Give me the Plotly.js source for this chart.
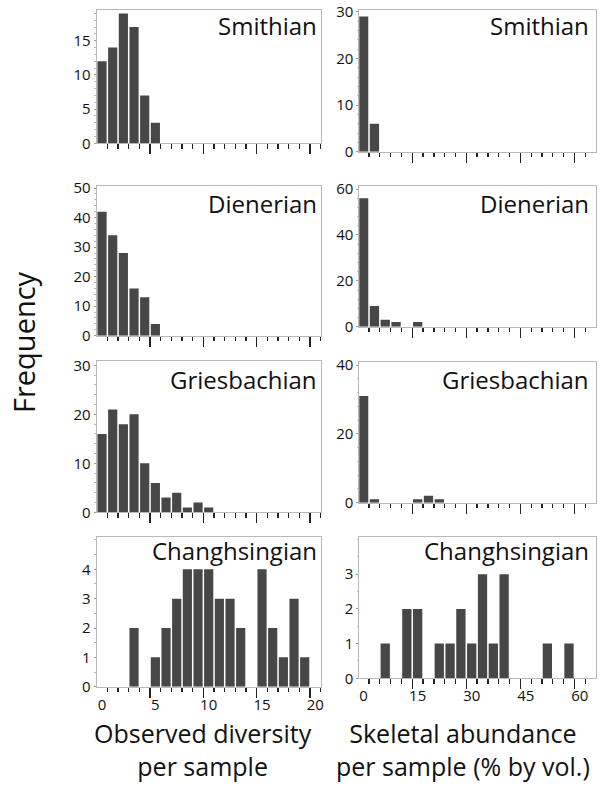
<!DOCTYPE html>
<html>
<head>
<meta charset="utf-8">
<script src="https://cdn.plot.ly/plotly-3.0.1.min.js"></script>
<style>
html,body{margin:0;padding:0;background:#fff;}
#chart{width:602px;height:787px;}
</style>
</head>
<body>
<div id="chart"></div>
<script>
// ---------- data ----------
const stages = ['Smithian', 'Dienerian', 'Griesbachian', 'Changhsingian'];

// observed diversity per sample: bins are integer values 0..20
const diversityBins = [0,1,2,3,4,5,6,7,8,9,10,11,12,13,14,15,16,17,18,19,20];
const smithianDiversity      = [12,14,19,17,7,3];
const dienerianDiversity     = [42,34,28,16,13,4];
const griesbachianDiversity  = [16,21,18,20,10,6,3,4,1,2,1];
const changhsingianDiversity = [0,0,0,2,0,1,2,3,4,4,4,3,3,2,0,4,2,1,3,1];

// skeletal abundance per sample (% by vol.): bins of 3 %
const abundanceBins = [0,3,6,9,12,15,18,21,24,27,30,33,36,39,42,45,48,51,54,57,60];
const smithianAbundance      = [29,6];
const dienerianAbundance     = [56,9,3,2,0,2];
const griesbachianAbundance  = [31,1,0,0,0,1,2,1];
const changhsingianAbundance = [0,0,1,0,2,2,0,1,1,2,1,3,1,3,0,0,0,1,0,1];

// tick labels
const diversityTickLabels = [0,5,10,15,20];
const abundanceTickLabels = [0,15,30,45,60];
const yTickLabels = [
  [[0,5,10,15],[0,10,20,30]],
  [[0,10,20,30,40,50],[0,20,40,60]],
  [[0,10,20,30],[0,20,40]],
  [[0,1,2,3,4],[0,1,2,3]]
];

const diversitySeries = [smithianDiversity, dienerianDiversity, griesbachianDiversity, changhsingianDiversity];
const abundanceSeries = [smithianAbundance, dienerianAbundance, griesbachianAbundance, changhsingianAbundance];

// ---------- layout geometry ----------
const W = 602, H = 787;
const colX = [[96.7, 320.7], [359.3, 596]];
const rowY = [
  [[10, 143.3], [10, 151.7]],
  [[185.7, 335.7], [185.7, 326.7]],
  [[361, 512.3], [361.7, 502.7]],
  [[537.3, 686.7], [536.7, 678.3]]
];
const yTop = [[19.5, 30.4], [50.8, 61.5], [30.9, 41], [5.09, 4.08]];
const yMinor = [[1, 2], [2, 4], [2, 4], [0.5, 0.5]];
const xRanges = [[-0.5, 20.5], [-1.2, 64.5]];
const binW = [1, 3];

const FONT = 'Open Sans, Noto Sans, sans-serif';
const BAR = '#474747';
const FRAME = '#b8b8b8';
const TICK = '#222';

function edgesAfter(bins, w, every) {
  const longT = [], shortT = [];
  bins.forEach((b, i) => {
    const e = b + w / 2;
    if ((i + 1) % every === 0) longT.push(e); else shortT.push(e);
  });
  return {longT, shortT};
}

const data = [];
const layout = {
  width: W, height: H,
  margin: {l: 0, r: 0, t: 0, b: 0},
  paper_bgcolor: '#fff', plot_bgcolor: '#fff',
  showlegend: false,
  bargap: 0.14,
  font: {family: FONT, color: '#111'},
  annotations: []
};

for (let r = 0; r < 4; r++) {
  for (let c = 0; c < 2; c++) {
    const n = r * 2 + c + 1;
    const bins = c === 0 ? diversityBins : abundanceBins;
    const counts = c === 0 ? diversitySeries[r] : abundanceSeries[r];
    data.push({
      type: 'bar',
      x: bins.slice(0, counts.length),
      y: counts,
      xaxis: 'x' + n, yaxis: 'y' + n,
      marker: {color: BAR, line: {width: 0}},
      hoverinfo: 'skip'
    });
    const ticks = edgesAfter(bins, binW[c], 5);
    const yd = rowY[r][c];
    layout['xaxis' + n] = {
      domain: [colX[c][0] / W, colX[c][1] / W],
      range: xRanges[c],
      anchor: 'y' + n,
      showline: true, mirror: true, linecolor: FRAME, linewidth: 1,
      showgrid: false, zeroline: false,
      ticks: 'outside', tickmode: 'array', tickvals: ticks.longT,
      ticklen: 10, tickwidth: 1.4, tickcolor: TICK,
      showticklabels: false,
      minor: {tickmode: 'array', tickvals: ticks.shortT, ticks: 'outside',
              ticklen: 4.5, tickwidth: 1.3, tickcolor: TICK, showgrid: false},
      fixedrange: true
    };
    layout['yaxis' + n] = {
      domain: [1 - yd[1] / H, 1 - yd[0] / H],
      range: [0, yTop[r][c]],
      anchor: 'x' + n,
      showline: true, mirror: true, linecolor: FRAME, linewidth: 1,
      showgrid: false, zeroline: false,
      ticks: 'outside', ticklen: 2, tickwidth: 1, tickcolor: '#999',
      tickmode: 'array', tickvals: yTickLabels[r][c],
      tickfont: {family: FONT, size: 15, color: '#111'},
      minor: {dtick: yMinor[r][c], ticks: 'outside', ticklen: 1.5, tickwidth: 1, tickcolor: '#bbb', showgrid: false},
      fixedrange: true
    };
    // stage name
    const baseY = [25.9, 203.3, 379, 550][r];
    layout.annotations.push({
      xref: 'paper', yref: 'paper',
      x: (c === 0 ? 319 : 591) / W, y: 1 - baseY / H,
      xanchor: 'right', yanchor: 'middle',
      text: stages[r], showarrow: false,
      font: {family: FONT, size: 24, color: '#111'}
    });
  }
}

// bottom-row tick label axes (labels centred on bins)
[[7, 9, diversityTickLabels, 0], [8, 10, abundanceTickLabels, 1]].forEach(([base, n, labels, c]) => {
  layout['xaxis' + n] = {
    overlaying: 'x' + base, anchor: 'y' + base,
    range: xRanges[c],
    showline: false, showgrid: false, zeroline: false,
    ticks: '', tickmode: 'array', tickvals: labels,
    ticklabelstandoff: 7,
    tickfont: {family: FONT, size: 15, color: '#111'},
    fixedrange: true
  };
  data.push({type: 'scatter', mode: 'markers', x: [], y: [], xaxis: 'x' + n, yaxis: 'y' + base, hoverinfo: 'skip'});
});

// axis titles
layout.annotations.push(
  {xref: 'paper', yref: 'paper', x: 23.3 / W, y: 1 - 341.7 / H, xanchor: 'center', yanchor: 'middle',
   text: 'Frequency', textangle: -90, showarrow: false, font: {family: FONT, size: 29, color: '#111'}},
  {xref: 'paper', yref: 'paper', x: 202.5 / W, y: 1 - 749 / H, xanchor: 'center', yanchor: 'middle',
   text: 'Observed diversity<br>per sample', align: 'center', showarrow: false,
   font: {family: FONT, size: 25, color: '#111'}},
  {xref: 'paper', yref: 'paper', x: 463.3 / W, y: 1 - 749 / H, xanchor: 'center', yanchor: 'middle',
   text: 'Skeletal abundance<br>per sample (% by vol.)', align: 'center', showarrow: false,
   font: {family: FONT, size: 25, color: '#111'}}
);

Plotly.newPlot('chart', data, layout, {displayModeBar: false, staticPlot: true});
</script>
</body>
</html>
